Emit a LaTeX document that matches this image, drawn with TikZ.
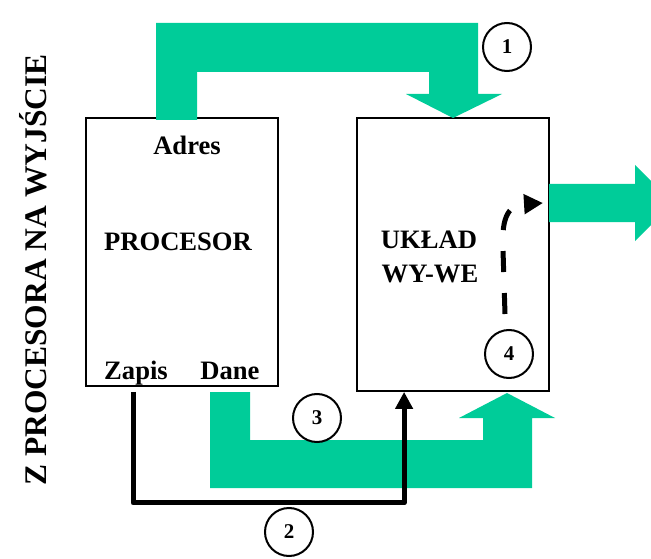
\documentclass[tikz,border=0pt]{standalone}
\usepackage{fontspec}
\setmainfont{Liberation Serif}
\usetikzlibrary{arrows.meta,positioning,calc}
\definecolor{bus}{HTML}{00CC99}
\definecolor{ink}{HTML}{000000}
\tikzset{
  blok/.style   ={draw=ink,line width=1.8pt,fill=white,inner sep=0pt},
  txt/.style    ={font=\fontsize{26.6}{30}\selectfont\bfseries,inner sep=0pt,anchor=base},
  num/.style    ={circle,draw=ink,line width=2pt,fill=white,minimum size=48pt,
                  inner sep=0pt,font=\fontsize{21}{24}\selectfont\bfseries},
  busarrow/.style={fill=bus,draw=none},
  wire/.style   ={line width=5pt,line join=round,draw=ink,
                  -{Triangle[length=17pt,width=17pt]}},
  hop/.style    ={line width=5pt,draw=ink,dash pattern=on 21pt off 21pt,
                  -{Triangle[length=19pt,width=19pt]}}
}

\begin{document}
\begin{tikzpicture}[x=1pt,y=-1pt]
        \useasboundingbox (0,0) rectangle (651,559);
        \node[blok,minimum width=192pt,minimum height=268pt] (proc) at (182,252) {};
        \node[blok,minimum width=192pt,minimum height=273pt] (io) at (453,254.5) {};
        % szyny
        \fill[busarrow] (156,120) -- (156,23) -- (478,23) -- (478,94) -- (502,94)
              -- (453,118) -- (406,94) -- (429,94) -- (429,72) -- (197,72) -- (197,120) -- cycle;
        \fill[busarrow] (210,392) -- (250,392) -- (250,440) -- (483,440) -- (483,418)
              -- (459,418) -- (507,393) -- (555,418) -- (532,418) -- (532,488) -- (210,488) -- cycle;
        \begin{scope}
          \clip (0,0) rectangle (651,559);
          \fill[busarrow] (549,184) -- (635,184) -- (635,165) -- (673,203) -- (635,241)
                -- (635,222) -- (549,222) -- cycle;
        \end{scope}
        \node[txt] (adres) at (187,155) {Adres};
        \node[txt] (procname) at (178,251) {PROCESOR};
        \node[txt] (zapis) at (136,379) {Zapis};
        \node[txt] (dane) at (230,379) {Dane};
        \node[txt] (ukl) at (429,248) {UKŁAD};
        \node[txt] (wywe) at (430,282) {WY-WE};
        \node[txt,rotate=90,font=\fontsize{31.5}{34}\selectfont\bfseries] (title) at (46,270)
              {Z PROCESORA NA WYJŚCIE};
        \node[num] (n1) at (507,47) {1};
        \node[num] (n2) at (289,532) {2};
        \node[num] (n3) at (317,418) {3};
        \node[num] (n4) at (509,354) {4};
        \coordinate (zout) at ($(proc.south -| zapis.south)+(-3,5)$);
        \coordinate (ioin) at ($(io.south west)+(48,0)$);
        \coordinate (hopend) at (543,203);
        \draw[wire] (zout) -- ++(0,111) -| (ioin);
        \draw[hop] ($(n4.north)+(-4,-15)$) -- (503,250)
              .. controls (501,214) and (510,205) .. (hopend);
      \end{tikzpicture}
\end{document}
